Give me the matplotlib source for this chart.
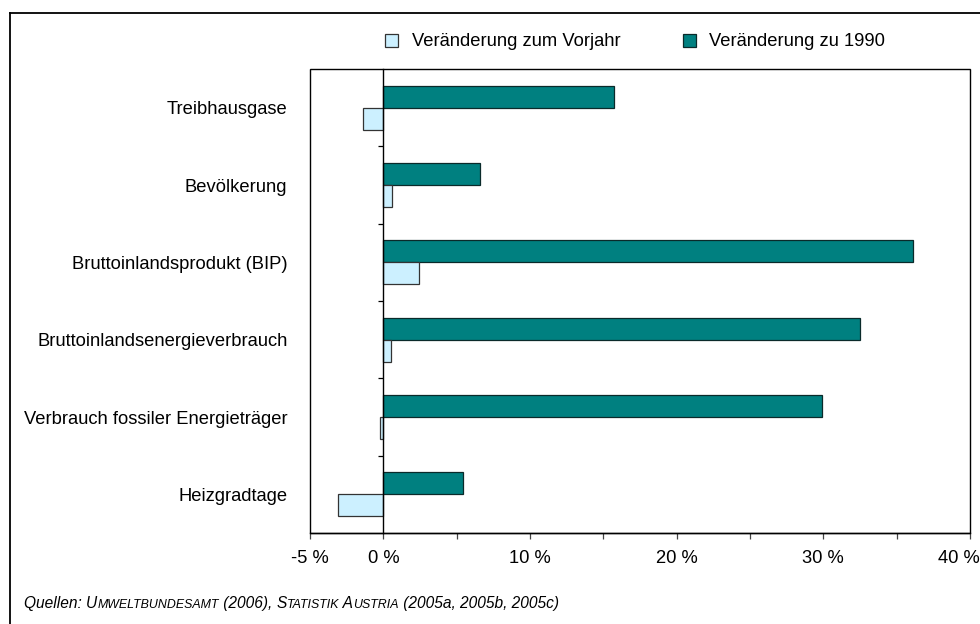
import matplotlib.pyplot as plt
from matplotlib.lines import Line2D
from matplotlib.patches import Rectangle
from matplotlib.ticker import FixedLocator
from matplotlib.transforms import ScaledTranslation

plt.rcParams["font.family"] = ["Liberation Sans", "DejaVu Sans"]

categories = [
    "Treibhausgase",
    "Bevölkerung",
    "Bruttoinlandsprodukt (BIP)",
    "Bruttoinlandsenergieverbrauch",
    "Verbrauch fossiler Energieträger",
    "Heizgradtage",
]
change_prev_year = [-1.4, 0.6, 2.4, 0.5, -0.25, -3.1]
change_1990 = [15.7, 6.6, 36.1, 32.5, 29.9, 5.4]
series_names = ["Veränderung zum Vorjahr", "Veränderung zu 1990"]

x_ticks = [-5, 0, 5, 10, 15, 20, 25, 30, 35, 40]
x_labels = ["-5 %", "0 %", "", "10 %", "", "20 %", "", "30 %", "", "40 %"]

LIGHT = "#ccf0ff"
TEAL = "#008080"
FS = 13.2

fig = plt.figure(figsize=(9.8, 6.24), dpi=100)
ax = fig.add_axes([310 / 980, 91 / 624, 660 / 980, 464 / 624])

pos = list(range(len(categories)))
h = 0.285
b1990 = ax.barh([p - h / 2 for p in pos], change_1990, height=h,
                color=TEAL, edgecolor="#0a2a2a", linewidth=0.9)
bprev = ax.barh([p + h / 2 for p in pos], change_prev_year, height=h,
                color=LIGHT, edgecolor="#333333", linewidth=0.9)

ax.set_xlim(-5, 40)
ax.set_ylim(len(categories) - 0.5, -0.5)

# box around the plot area, y axis line sits at 0 %
ax.spines["top"].set_visible(False)
ax.spines["right"].set_visible(False)
ax.spines["left"].set_position(("data", 0))
ax.spines["left"].set_linewidth(1.0)
ax.spines["bottom"].set_linewidth(1.0)
ax.add_patch(Rectangle((0, 0), 1, 1, transform=ax.transAxes, fill=False,
                       edgecolor="black", linewidth=1.0, clip_on=False, zorder=3))

ax.set_xticks(x_ticks)
ax.set_xticklabels(x_labels, fontsize=FS)
ax.tick_params(axis="x", direction="out", length=4.5, width=0.9,
               color="#444444", pad=7.5)
# last label is pushed inside the figure, like the original
last = ax.get_xticklabels()[-1]
last.set_ha("right")
last.set_transform(last.get_transform() + ScaledTranslation(10 / 100, 0, fig.dpi_scale_trans))

ax.set_yticks(pos)
ax.set_yticklabels(categories, fontsize=FS)
ax.yaxis.set_minor_locator(FixedLocator([p + 0.5 for p in pos[:-1]]))
ax.tick_params(axis="y", which="major", length=0, pad=69)
ax.tick_params(axis="y", which="minor", direction="out", length=3.8, width=0.9)

fig.legend([bprev, b1990], series_names, loc="center", bbox_to_anchor=(635 / 980, 1 - 42 / 624),
           ncol=2, frameon=False, fontsize=FS, handlelength=0.72, handleheight=0.72,
           handletextpad=0.75, columnspacing=3.4, borderaxespad=0)

# outer frame (only left and top edges visible)
fig.add_artist(Line2D([9.5 / 980, 9.5 / 980], [0, 1 - 12.5 / 624],
                      transform=fig.transFigure, color="black", linewidth=1.3))
fig.add_artist(Line2D([9.5 / 980, 1], [1 - 12.5 / 624, 1 - 12.5 / 624],
                      transform=fig.transFigure, color="black", linewidth=1.3))

# source line, small caps built from two font sizes
pieces = [
    ("Quellen: ", 1.0), ("U", 1.0), ("MWELTBUNDESAMT", 0.8), (" (2006), ", 1.0),
    ("S", 1.0), ("TATISTIK", 0.8), (" A", 1.0), ("USTRIA", 0.8),
    (" (2005a, 2005b, 2005c)", 1.0),
]
src_fs = 11.2
renderer = fig.canvas.get_renderer()
x0 = 24
for txt, scale in pieces:
    t = fig.text(x0 / 980, 1 - 608 / 624, txt, fontsize=src_fs * scale,
                 style="italic", va="baseline", ha="left")
    x0 += t.get_window_extent(renderer).width

fig.savefig("out.png", dpi=100)
